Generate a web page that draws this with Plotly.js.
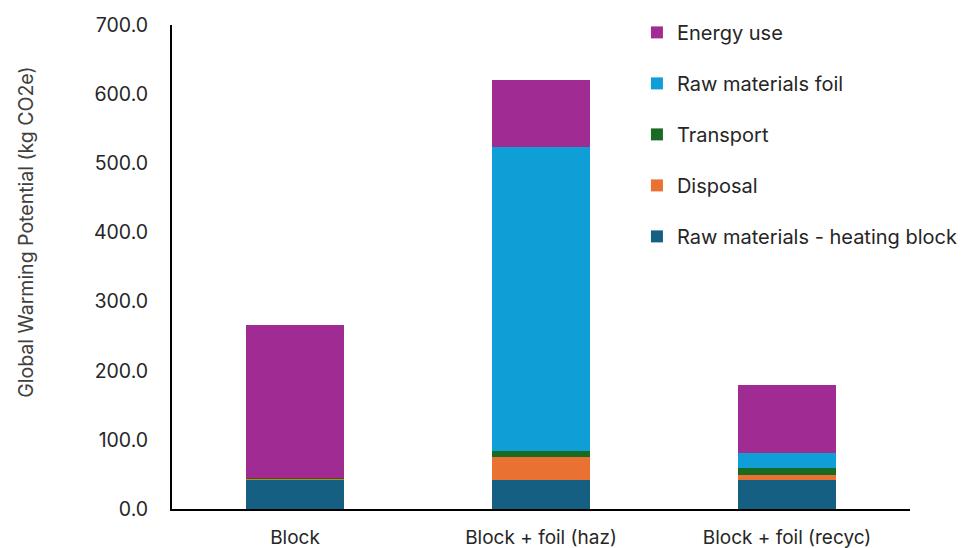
<!DOCTYPE html>
<html>
<head>
<meta charset="utf-8">
<script src="https://cdn.plot.ly/plotly-3.0.1.min.js"></script>
<style>html,body{margin:0;padding:0;background:#fff;}#chart{width:969px;height:548px;}</style>
</head>
<body>
<div id="chart"></div>
<script>
const categories = ["Block", "Block + foil (haz)", "Block + foil (recyc)"];
const rawHeatingBlock = [42.5, 42.0, 42.0];
const disposal = [0.5, 33.0, 7.7];
const transport = [1.5, 9.0, 9.0];
const rawFoil = [0.0, 439.0, 22.0];
const energyUse = [221.5, 97.0, 98.0];
const yTicks = [0, 100, 200, 300, 400, 500, 600, 700];
const yTitle = "Global Warming Potential (kg CO2e)";

const seriesNames = ["Raw materials - heating block", "Disposal", "Transport", "Raw materials foil", "Energy use"];
const seriesValues = [rawHeatingBlock, disposal, transport, rawFoil, energyUse];
const seriesColors = ["#156082", "#E97132", "#196B24", "#0F9ED5", "#A02B93"];

const traces = seriesNames.map((n, i) => ({
  type: "bar",
  name: n,
  x: categories,
  y: seriesValues[i],
  legendgroup: "g" + i,
  legendrank: seriesNames.length - i,
  marker: {color: seriesColors[i], line: {width: 0}},
  hoverinfo: "name+y"
}));

const layout = {
  width: 969, height: 548,
  margin: {l: 172, r: 59, t: 25, b: 39, autoexpand: false},
  paper_bgcolor: "#ffffff",
  plot_bgcolor: "#ffffff",
  barmode: "stack",
  bargap: 0.6,
  font: {family: "Inter, 'Open Sans', sans-serif", color: "#404040", size: 17},
  xaxis: {
    showline: true, linecolor: "#000000", linewidth: 2,
    ticks: "", showgrid: false, zeroline: false,
    tickfont: {size: 19, color: "#262626"},
    ticklabelstandoff: 10
  },
  yaxis: {
    range: [0, 700],
    tickvals: yTicks,
    ticktext: yTicks.map(v => v.toFixed(1)),
    showline: true, linecolor: "#000000", linewidth: 2,
    ticks: "", showgrid: false, zeroline: false,
    tickfont: {size: 19.5, color: "#262626"},
    ticklabelstandoff: 18
  },
  annotations: [{
    text: yTitle, textangle: -90,
    xref: "paper", yref: "paper",
    x: -0.197, xanchor: "center",
    y: 0.572, yanchor: "middle",
    showarrow: false,
    font: {size: 19.5, color: "#404040"}
  }],
  showlegend: true,
  legend: {
    x: 0.63, xanchor: "left",
    y: 1.025, yanchor: "top",
    traceorder: "grouped",
    tracegroupgap: 22,
    font: {size: 20, color: "#262626"},
    bgcolor: "rgba(0,0,0,0)",
    itemwidth: 30
  }
};

Plotly.newPlot("chart", traces, layout, {displayModeBar: false, staticPlot: true});
</script>
</body>
</html>
